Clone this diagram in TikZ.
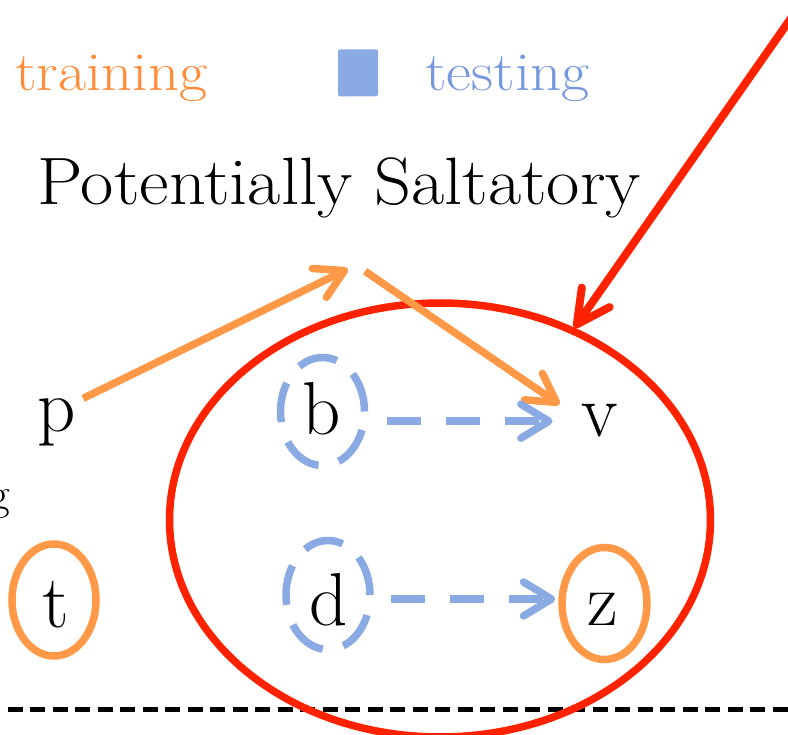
\documentclass[tikz,border=0pt]{standalone}
\usetikzlibrary{arrows.meta,shapes.geometric}
\definecolor{orng}{RGB}{255,153,72}
\definecolor{orngtxt}{RGB}{255,140,56}
\definecolor{blu}{RGB}{137,170,226}
\definecolor{blutxt}{RGB}{118,152,222}
\definecolor{rd}{RGB}{255,34,0}
\tikzset{
  letter/.style={font=\fontsize{75}{80}\selectfont, inner sep=0pt, anchor=base},
  ringo/.style={ellipse, draw=orng, line width=7.5pt, inner sep=0pt},
  ringb/.style={ellipse, draw=blu, line width=7.5pt, inner sep=0pt, dash pattern=on 40pt off 21pt},
  oarr/.style={draw=orng, line width=7.5pt, -{Straight Barb[length=28pt, width=32pt, round]}},
  barr/.style={draw=blu, line width=7.5pt, dash pattern=on 34pt off 25pt, -{Straight Barb[length=28pt, width=34pt, round]}},
  rarr/.style={draw=rd, line width=8pt, -{Straight Barb[length=33pt, width=34pt, round]}},
  legtext/.style={font=\fontsize{55}{60}\selectfont, inner sep=0pt, anchor=base west},
}
\begin{document}
\begin{tikzpicture}[x=1pt,y=-1pt]
\useasboundingbox (0,0) rectangle (788,735);
% legend
\node[legtext, text=orngtxt] (train) at (15,91) {\scalebox{1.11}[1]{training}};
\node[fill=blu, minimum width=40pt, minimum height=47pt, inner sep=0pt, rounded corners=1.5pt] (sq) at (358,73) {};
\node[legtext, text=blutxt] (test) at (425,91) {\scalebox{1.11}[1]{testing}};
% title
\node[font=\fontsize{67}{72}\selectfont, inner sep=0pt, anchor=base west] (title) at (37,205) {\scalebox{1.08}[1]{Potentially Saltatory}};
% cut-off letter at left
\node[font=\fontsize{45}{50}\selectfont, inner sep=0pt, anchor=base east] (g) at (10,509) {g};
% dashed separator
\coordinate (dl) at (0,709);
\coordinate (dr) at (788,709);
\draw[line width=5pt, dash pattern=on 15pt off 7.5pt, dash phase=15pt] (dl) -- (dr);
% letters
\node[letter] (p) at (56.5,432) {p};
\node[letter] (b) at (321.5,435) {b};
\node[letter] (v) at (600,437) {v};
\node[letter] (t) at (55.5,627) {t};
\node[letter] (d) at (328.5,625) {d};
\node[letter] (z) at (603,625) {z};
% rings
\node[ringb, minimum width=84pt, minimum height=108pt] (bring) at (322.5,411.5) {};
\node[ringb, minimum width=84pt, minimum height=109pt] (dring) at (328,595) {};
\node[ringo, minimum width=84pt, minimum height=112pt] (tring) at (54,600) {};
\node[ringo, minimum width=85pt, minimum height=112pt] (zring) at (604.5,603.5) {};
% big red ellipse
\node[ellipse, draw=rd, line width=7.5pt, minimum width=541pt, minimum height=434pt, inner sep=0pt] (big) at (440,520) {};
% red arrow from off the picture
\coordinate (rs) at (803,1);
\draw[rarr] (rs) -- (big);
% orange arrows
\coordinate (top) at (356,265);
\draw[oarr, shorten <=8pt, shorten >=9pt] ([yshift=-3pt]p.north east) -- (top);
\draw[oarr, shorten <=11pt] (top) -- ([xshift=-22pt]v.north west);
% blue dashed arrows
\draw[barr, shorten <=18.5pt, shorten >=29pt] (bring.east |- v.west) -- (v.west);
\draw[barr, shorten <=17pt, shorten >=3pt] ([yshift=-4pt]dring.east) -- ([yshift=4.5pt]zring.west);
\end{tikzpicture}
\end{document}
